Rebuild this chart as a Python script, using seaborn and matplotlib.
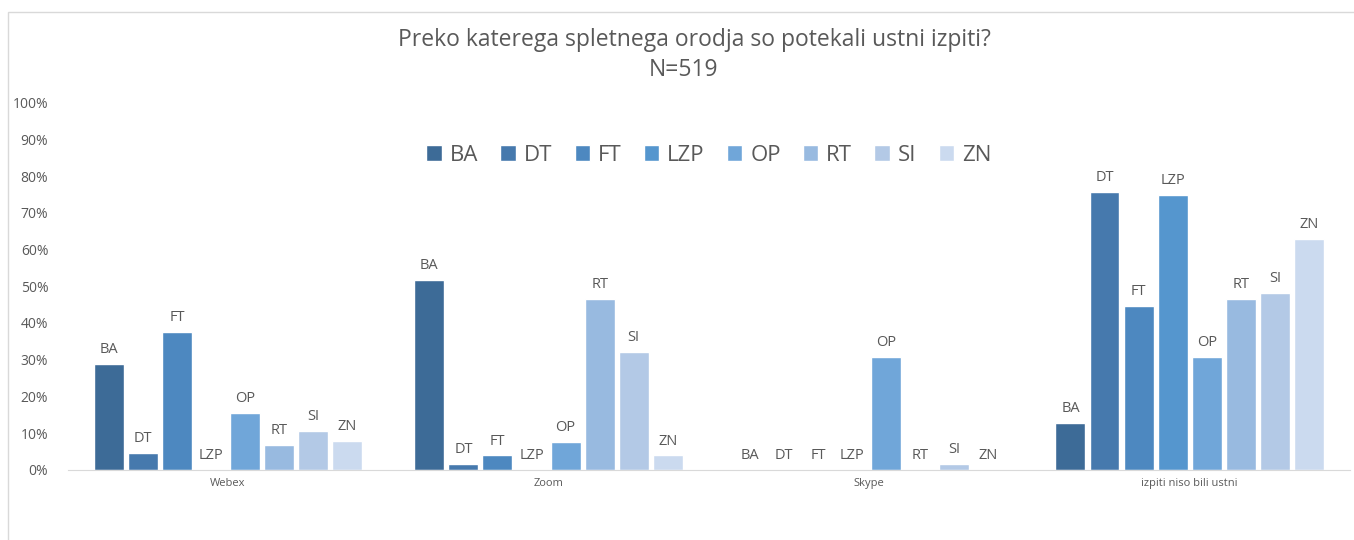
import pandas as pd
import matplotlib.pyplot as plt
import seaborn as sns
from matplotlib.patches import Rectangle

# data (percent)
tools = ['Webex', 'Zoom', 'Skype', 'izpiti niso bili ustni']
faculties = ['BA', 'DT', 'FT', 'LZP', 'OP', 'RT', 'SI', 'ZN']
webex = [28.9, 4.5, 37.5, 0.0, 15.4, 6.7, 10.6, 7.8]
zoom = [51.6, 1.5, 3.9, 0.0, 7.6, 46.6, 32.1, 3.9]
skype = [0.0, 0.0, 0.0, 0.0, 30.7, 0.0, 1.6, 0.0]
not_oral = [12.8, 75.7, 44.5, 74.9, 30.6, 46.6, 48.1, 62.9]

colors = ['#3D6B97', '#4679AD', '#4D88C0', '#5596CE', '#70A6D9',
          '#98BAE0', '#B3C9E6', '#CBDAEF']

rows = []
for tool, vals in zip(tools, [webex, zoom, skype, not_oral]):
    for fac, v in zip(faculties, vals):
        rows.append({'tool': tool, 'faculty': fac, 'pct': v})
df = pd.DataFrame(rows)

sns.set_style('white')
plt.rcParams['font.family'] = ['Open Sans', 'DejaVu Sans']
text_col = '#595959'

fig = plt.figure(figsize=(13.54, 5.4), dpi=100)
ax = fig.add_axes([0.05, 0.13, 0.947, 0.68])

sns.barplot(data=df, x='tool', y='pct', hue='faculty', order=tools,
            hue_order=faculties, palette=colors, width=0.85, gap=0.12,
            ax=ax, legend=True, saturation=1)

# faculty names above each bar
for cont, fac in zip(ax.containers, faculties):
    ax.bar_label(cont, labels=[fac] * len(cont), padding=5,
                 fontsize=10.5, color=text_col)

ax.set_ylim(0, 100)
ax.set_yticks(range(0, 101, 10))
ax.set_yticklabels([f'{t}%' for t in range(0, 101, 10)])
ax.set_xlim(-0.5, 3.5)
ax.set_xlabel('')
ax.set_ylabel('')
ax.tick_params(axis='y', labelsize=10, colors=text_col, length=0, pad=14)
ax.tick_params(axis='x', labelsize=8, colors=text_col, length=0, pad=6)
for s in ['top', 'right', 'left']:
    ax.spines[s].set_visible(False)
ax.spines['bottom'].set_color('#D9D9D9')

leg = ax.legend(loc='center', bbox_to_anchor=(0.5, 0.856), ncol=8,
                frameon=False, fontsize=16, handlelength=0.7,
                handleheight=0.7, columnspacing=1.0, handletextpad=0.35)
for t in leg.get_texts():
    t.set_color(text_col)

fig.text(0.513, 0.925, 'Preko katerega spletnega orodja so potekali ustni izpiti?',
         ha='center', va='center', fontsize=16.5, color=text_col)
fig.text(0.505, 0.87, 'N=519', ha='center', va='center', fontsize=16.5, color=text_col)

# outer chart border
fig.patches.append(Rectangle((0.006, -0.01), 1.0, 0.988, transform=fig.transFigure,
                             fill=False, edgecolor='#D9D9D9', linewidth=1))

fig.savefig('out.png', dpi=100)
